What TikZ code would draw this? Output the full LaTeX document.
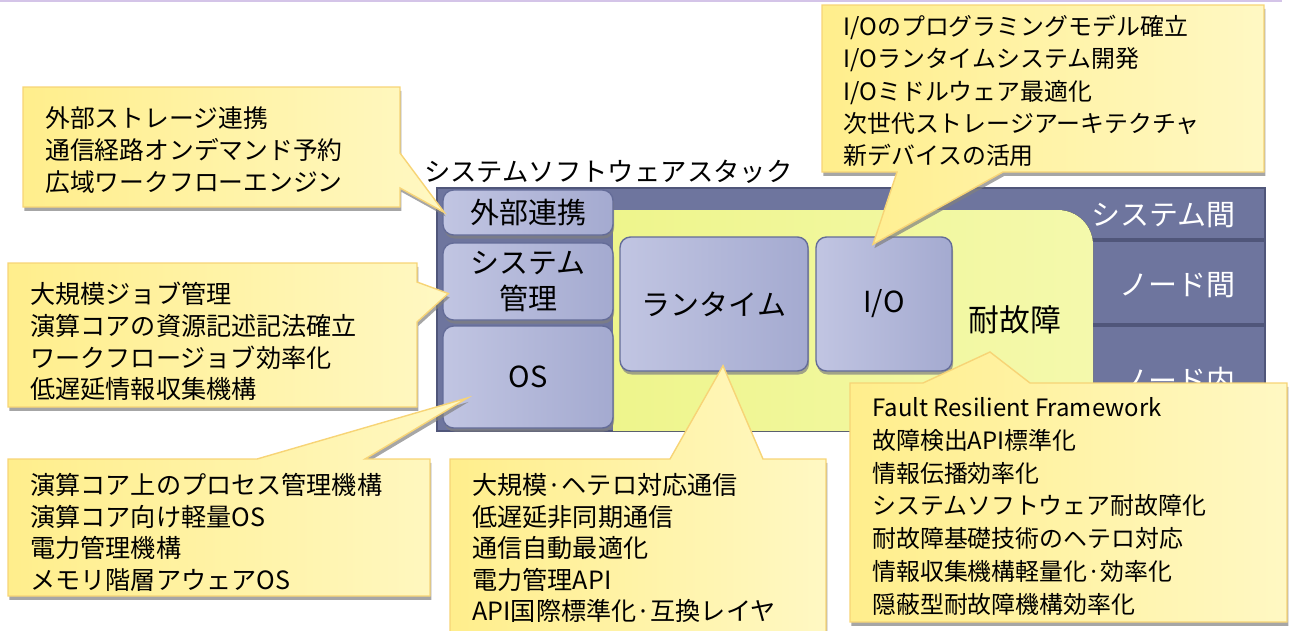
\documentclass[tikz,border=0pt]{standalone}
\usepackage{fontspec}
\setmainfont{Noto Sans CJK JP}
\usetikzlibrary{calc,fit,shadows}

\definecolor{framefill}{RGB}{110,117,158}
\definecolor{frameline}{RGB}{80,86,122}
\definecolor{yelA}{RGB}{238,245,140}
\definecolor{yelB}{RGB}{244,249,172}
\definecolor{boxA}{RGB}{193,197,226}
\definecolor{boxB}{RGB}{164,170,208}
\definecolor{boxline}{RGB}{100,108,152}
\definecolor{noteA}{RGB}{255,238,140}
\definecolor{noteB}{RGB}{255,248,195}
\definecolor{noteline}{RGB}{247,212,118}
\definecolor{topline}{RGB}{212,196,232}

\tikzset{
layerbox/.style={
	draw=boxline, line width=0.8pt, rounded corners=6pt, inner sep=0pt,
	left color=boxA, right color=boxB,
	drop shadow={shadow xshift=0.6pt, shadow yshift=-2pt, fill=black!50, opacity=0.7}},
boxlabel/.style={align=center, font=\fontsize{16.5}{20}\selectfont},
callout/.style={
	draw=noteline, line width=0.8pt, left color=noteA, right color=noteB,
	drop shadow={shadow xshift=0.8pt, shadow yshift=-2.2pt, fill=black!50, opacity=0.7}},
notetext/.style={anchor=north west, inner sep=0pt, align=left,
	font=\fontsize{14.3}{18}\selectfont},
rowlabel/.style={anchor=east, text=white, font=\fontsize{16.5}{20}\selectfont}
}

\begin{document}
\begin{tikzpicture}[x=0.2mm, y=-0.2mm]
	\useasboundingbox (0,0) rectangle (1289,630);
	\draw[topline, line width=0.8pt] (0,1) -- (1282,1);

	% stack frame and rows
	\draw[frameline, fill=framefill, line width=1pt] (437,188) rectangle (1265,431);
	\fill[left color=yelA, right color=yelB] (613,431) -- (613,210) -- (1058,210)
		to[out=0, in=90] (1093,245) -- (1093,431) -- cycle;
	\draw[frameline, line width=2pt] (1093,240) -- (1264,240) (1093,325) -- (1264,325);
	\node[rowlabel] (sys) at (1242,215) {システム間};
	\node[rowlabel] (inter) at (1242,285) {ノード間};
	\node[rowlabel] (intra) at (1242,381) {ノード内};

	\node[anchor=west, font=\fontsize{15}{18}\selectfont] (title) at (418,172) {システムソフトウェアスタック};

	% layers
	\node[layerbox, fit={(443,190) (613,235)}] (ext) {};
	\node[layerbox, fit={(443,243) (613,320)}] (mgmt) {};
	\node[layerbox, fit={(443,326) (613,428)}] (os) {};
	\node[layerbox, fit={(620,237) (808,371)}] (rt) {};
	\node[layerbox, fit={(816,237) (952,371)}] (io) {};
	\node[boxlabel] (extlabel) at (ext) {外部連携};
	\node[boxlabel] (mgmtlabel) at (mgmt) {システム\\管理};
	\node[boxlabel] (oslabel) at (os) {OS};
	\node[boxlabel] (rtlabel) at (rt) {ランタイム};
	\node[boxlabel] (iolabel) at (io) {I/O};
	\node[font=\fontsize{17.5}{20}\selectfont] (ft) at (1015,320) {耐故障};

	% callouts
	\draw[callout] (23,87) -- (400,87) -- (400,153) -- ($(ext.west)+(2,0)$) -- (400,188)
		-- (400,207) -- (23,207) -- cycle;
	\node[notetext, font=\fontsize{14.1}{18.3}\selectfont] (extnote) at (45,106) {外部ストレージ連携\\通信経路オンデマンド予約\\広域ワークフローエンジン};

	\draw[callout] (8,263) -- (417,263) -- (417,282) -- ($(mgmt.west)+(6,12)$) -- (417,322)
		-- (417,407) -- (8,407) -- cycle;
	\node[notetext] (mgmtnote) at (30,282) {大規模ジョブ管理\\演算コアの資源記述記法確立\\ワークフロージョブ効率化\\低遅延情報収集機構};

	\draw[callout] (8,459) -- (257,459) -- ($(os.west)+(25,21)$) -- (365,459) -- (430,459)
		-- (430,596) -- (8,596) -- cycle;
	\node[notetext] (osnote) at (30,473) {演算コア上のプロセス管理機構\\演算コア向け軽量OS\\電力管理機構\\メモリ階層アウェアOS};

	\draw[callout] (450,459) -- (670,459) -- ($(rt.south)+(9,-6)$) -- (763,459) -- (826,459)
		-- (826,650) -- (450,650) -- cycle;
	\node[notetext] (rtnote) at (472,473) {大規模·ヘテロ対応通信\\低遅延非同期通信\\通信自動最適化\\電力管理API\\API国際標準化·互換レイヤ};

	\draw[callout] (822,5) -- (1264,5) -- (1264,172) -- (1003,172) -- ($(io.north)+(-11,8)$)
		-- (897,172) -- (822,172) -- cycle;
	\node[notetext, font=\fontsize{13.6}{18.3}\selectfont] (ionote) at (843,15) {I/Oのプログラミングモデル確立\\I/Oランタイムシステム開発\\I/Oミドルウェア最適化\\次世代ストレージアーキテクチャ\\新デバイスの活用};

	\draw[callout] (850,383) -- (923,383) -- ($(ft)+(-25,32)$) -- (1030,383) -- (1287,383)
		-- (1287,622) -- (850,622) -- cycle;
	\node[notetext, font=\fontsize{13.6}{18.7}\selectfont] (faultnote) at (872,397) {Fault Resilient Framework\\故障検出API標準化\\情報伝播効率化\\システムソフトウェア耐故障化\\耐故障基礎技術のヘテロ対応\\情報収集機構軽量化·効率化\\隠蔽型耐故障機構効率化};
\end{tikzpicture}
\end{document}
